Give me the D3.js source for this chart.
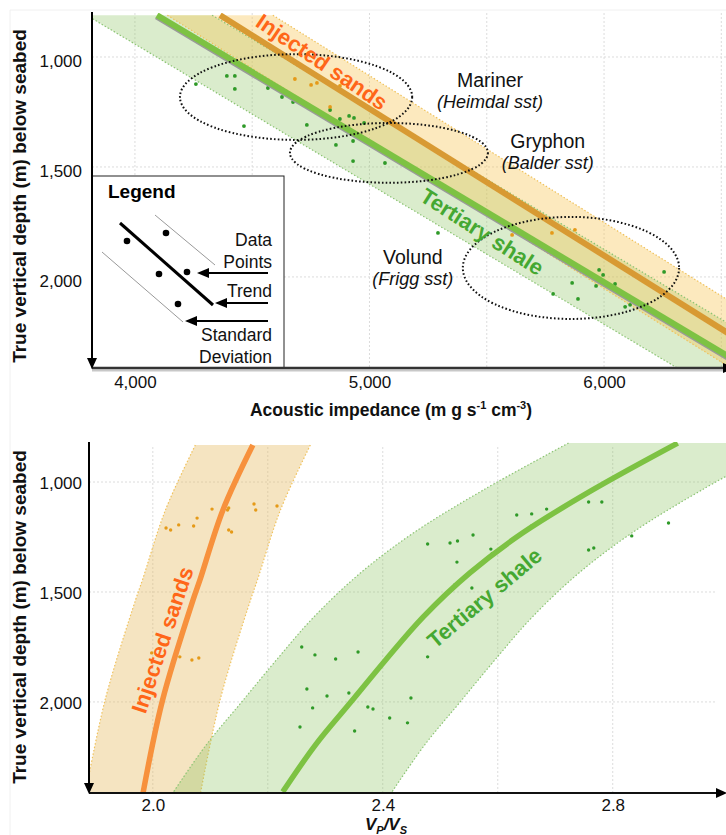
<!DOCTYPE html>
<html>
<head>
<meta charset="utf-8">
<script src="https://cdn.jsdelivr.net/npm/d3@7"></script>
<style>
  body { margin: 0; background: #fff; }
  svg { display: block; font-family: "Liberation Sans", Arial, sans-serif; }
</style>
</head>
<body>
<svg id="chart" width="726" height="835"></svg>
<script>
// ---------- Upper panel: acoustic impedance vs depth ----------
const aiTickValues = [4000, 5000, 6000];
const aiGridValues = [4000, 4500, 5000, 5500, 6000, 6500];
const depthTickValues = [1000, 1500, 2000];

// straight trend lines (end points: impedance, depth)
const shaleTrendAI = [4094, 6669];
const shaleTrendDepth = [810, 2450];
const shaleSdBelow = 300;   // band half-width on the low-impedance side
const shaleSdAbove = 235;   // band half-width on the high-impedance side
const sandTrendAI = [4363, 6820];
const sandTrendDepth = [810, 2450];
const sandSd = 225;

// measured samples
const shaleAI = [4260, 4392, 4426, 4426, 4567, 4627, 4674, 4465, 4733, 4832, 4874, 4913, 4934, 4977,
                 4857, 4930, 4930, 5066, 5190, 5292, 5825, 5979, 5996, 6047, 5864, 5966, 5889, 5783,
                 6090, 6111, 6256];
const shaleDepth = [1123, 1086, 1086, 1145, 1141, 1182, 1205, 1314, 1309, 1241, 1282, 1268, 1277, 1300,
                    1400, 1382, 1473, 1482, 1364, 1800, 1782, 1968, 1991, 2032, 2027, 2041, 2100, 2077,
                    2136, 2127, 1977];
const sandAI = [4682, 4751, 4776, 4874, 4832, 5608, 5778, 5842, 5876];
const sandDepth = [1100, 1127, 1118, 1132, 1227, 1809, 1800, 1800, 1786];

// field outlines (centre impedance, centre depth, half-width, half-height)
const fieldNames = ["Mariner", "Gryphon", "Volund"];
const fieldReservoirs = ["(Heimdal sst)", "(Balder sst)", "(Frigg sst)"];
const fieldCx = [4687, 5083, 5859];
const fieldCy = [1182, 1436, 1959];
const fieldRx = [495, 422, 461];
const fieldRy = [195, 136, 232];
const fieldLabelAI = [5514, 5760, 5185];
const fieldLabelDepth = [1136, 1414, 1941];

// ---------- Lower panel: Vp/Vs vs depth ----------
const vpvsTickValues = [2.0, 2.4, 2.8];
const vpvsGridValues = [2.0, 2.2, 2.4, 2.6, 2.8];

const sandTrendVpVs = [2.174, 2.122, 2.082, 2.070, 2.017, 1.983];
const sandTrendVpVsDepth = [832, 1127, 1445, 1536, 1991, 2414];
const sandVpVsSd = 0.1;
const shaleTrendVpVs = [2.913, 2.765, 2.643, 2.551, 2.470, 2.405, 2.343, 2.283, 2.226];
const shaleTrendVpVsDepth = [823, 1036, 1232, 1414, 1614, 1809, 2005, 2195, 2409];
const shaleVpVsSd = 0.19;

const sandVpVs = [2.023, 2.031, 2.045, 2.071, 2.077, 2.103, 2.130, 2.132, 2.132, 2.137, 2.176, 2.179, 2.216,
                  1.998, 2.047, 2.068, 2.080];
const sandVpVsDepth = [1209, 1218, 1195, 1200, 1164, 1123, 1127, 1118, 1218, 1227, 1100, 1127, 1109,
                       1777, 1795, 1809, 1800];
const shaleVpVs = [2.478, 2.517, 2.530, 2.557, 2.529, 2.588, 2.590, 2.633, 2.659, 2.659, 2.685, 2.758, 2.781,
                   2.758, 2.767, 2.833, 2.897, 2.525, 2.555, 2.259, 2.282, 2.318, 2.357, 2.268, 2.303, 2.341,
                   2.278, 2.374, 2.383, 2.256, 2.304, 2.351, 2.478, 2.449, 2.412, 2.443];
const shaleVpVsDepth = [1282, 1277, 1268, 1241, 1364, 1305, 1327, 1150, 1145, 1200, 1123, 1091, 1091,
                        1309, 1300, 1245, 1186, 1468, 1482, 1750, 1786, 1805, 1773, 1941, 1973, 1959,
                        2027, 2023, 2032, 2114, 2127, 2132, 1795, 1982, 2073, 2095];

// ---------- styling ----------
const C = {
  shaleFill: "rgba(140,195,95,0.32)",
  sandFill: "rgba(246,196,84,0.38)",
  sandFillLow: "rgba(230,188,100,0.40)",
  shaleEdge: "#8cc474",
  sandEdge: "#f0c25c",
  shaleLine: "#7dc243",
  sandLineTop: "#d89a33",
  sandLineLow: "#f7913d",
  shaleDot: "#2f9a28",
  sandDot: "#e59a18",
  shaleText: "#45a832",
  sandText: "#ff6618",
  grid: "#dcdcdc"
};

const svg = d3.select("#chart");
const defs = svg.append("defs");

// faint panel frame
svg.append("path").attr("d", "M10,835 V10 H726").attr("fill", "none").attr("stroke", "#f0f0f0");

function arrowDown(g, x, y) {
  g.append("path").attr("d", `M${x - 5},${y - 11} L${x + 5},${y - 11} L${x},${y} Z`).attr("fill", "#000");
}
function arrowRight(g, x, y) {
  g.append("path").attr("d", `M${x - 11},${y - 5} L${x - 11},${y + 5} L${x},${y} Z`).attr("fill", "#000");
}

// =================== upper panel ===================
const xTop = d3.scaleLinear().domain([3817, 6520]).range([92, 726]);
const yTop = d3.scaleLinear().domain([800, 2414]).range([13, 368]);

defs.append("clipPath").attr("id", "clipTop")
  .append("rect").attr("x", 92).attr("y", 13).attr("width", 640).attr("height", 355);

const upper = svg.append("g");

// grid
upper.append("g").selectAll("line").data(aiGridValues).join("line")
  .attr("x1", d => xTop(d)).attr("x2", d => xTop(d))
  .attr("y1", 13).attr("y2", 368)
  .attr("stroke", C.grid).attr("stroke-dasharray", "2,2");
upper.append("g").selectAll("line").data(depthTickValues).join("line")
  .attr("x1", 92).attr("x2", 726)
  .attr("y1", d => yTop(d)).attr("y2", d => yTop(d))
  .attr("stroke", C.grid).attr("stroke-dasharray", "2,2");

const plotTop = upper.append("g").attr("clip-path", "url(#clipTop)");
const lineTop = d3.line().x(d => xTop(d[0])).y(d => yTop(d[1]));

const shaleBandTop = [
  [shaleTrendAI[0] - shaleSdBelow, shaleTrendDepth[0]],
  [shaleTrendAI[1] - shaleSdBelow, shaleTrendDepth[1]],
  [shaleTrendAI[1] + shaleSdAbove, shaleTrendDepth[1]],
  [shaleTrendAI[0] + shaleSdAbove, shaleTrendDepth[0]]
];
const sandBandTop = [
  [sandTrendAI[0] - sandSd, sandTrendDepth[0]],
  [sandTrendAI[1] - sandSd, sandTrendDepth[1]],
  [sandTrendAI[1] + sandSd, sandTrendDepth[1]],
  [sandTrendAI[0] + sandSd, sandTrendDepth[0]]
];

plotTop.append("path").attr("d", lineTop(shaleBandTop) + "Z").attr("fill", C.shaleFill);
plotTop.append("path").attr("d", lineTop(sandBandTop) + "Z").attr("fill", C.sandFill);

// dotted band edges
[[shaleBandTop[0], shaleBandTop[1], C.shaleEdge], [shaleBandTop[3], shaleBandTop[2], C.shaleEdge],
 [sandBandTop[0], sandBandTop[1], C.sandEdge], [sandBandTop[3], sandBandTop[2], C.sandEdge]]
  .forEach(([a, b, col]) => {
    plotTop.append("path").attr("d", lineTop([a, b])).attr("fill", "none")
      .attr("stroke", col).attr("stroke-width", 1.2).attr("stroke-dasharray", "1.5,2");
  });

// samples
plotTop.append("g").selectAll("circle").data(d3.range(shaleAI.length)).join("circle")
  .attr("cx", i => xTop(shaleAI[i])).attr("cy", i => yTop(shaleDepth[i]))
  .attr("r", 1.9).attr("fill", C.shaleDot);
plotTop.append("g").selectAll("circle").data(d3.range(sandAI.length)).join("circle")
  .attr("cx", i => xTop(sandAI[i])).attr("cy", i => yTop(sandDepth[i]))
  .attr("r", 1.9).attr("fill", C.sandDot);

// trend lines
const shaleTrendPts = shaleTrendAI.map((v, i) => [v, shaleTrendDepth[i]]);
const sandTrendPts = sandTrendAI.map((v, i) => [v, sandTrendDepth[i]]);
plotTop.append("path").attr("d", lineTop(shaleTrendPts)).attr("transform", "translate(-1.5,3)")
  .attr("fill", "none").attr("stroke", "#9a9a9a").attr("stroke-width", 2);
plotTop.append("path").attr("d", lineTop(shaleTrendPts))
  .attr("fill", "none").attr("stroke", C.shaleLine).attr("stroke-width", 6);
plotTop.append("path").attr("d", lineTop(sandTrendPts))
  .attr("fill", "none").attr("stroke", C.sandLineTop).attr("stroke-width", 6);

// field outlines
plotTop.append("g").selectAll("ellipse").data(fieldNames).join("ellipse")
  .attr("cx", (d, i) => xTop(fieldCx[i])).attr("cy", (d, i) => yTop(fieldCy[i]))
  .attr("rx", (d, i) => xTop(fieldCx[i] + fieldRx[i]) - xTop(fieldCx[i]))
  .attr("ry", (d, i) => yTop(fieldCy[i] + fieldRy[i]) - yTop(fieldCy[i]))
  .attr("fill", "none").attr("stroke", "#111").attr("stroke-width", 2)
  .attr("stroke-dasharray", "1.6,2.2");

// field labels
fieldNames.forEach((name, i) => {
  const lx = xTop(fieldLabelAI[i]), ly = yTop(fieldLabelDepth[i]);
  upper.append("text").attr("x", lx).attr("y", ly).attr("text-anchor", "middle")
    .attr("font-size", 19.5).attr("fill", "#111").text(name);
  upper.append("text").attr("x", lx).attr("y", ly + 21).attr("text-anchor", "middle")
    .attr("font-size", 18).attr("font-style", "italic").attr("fill", "#111").text(fieldReservoirs[i]);
});

// series names along the trends
upper.append("text")
  .attr("transform", `translate(${xTop(4797)},${yTop(1023)}) rotate(34)`)
  .attr("text-anchor", "middle").attr("dominant-baseline", "central")
  .attr("font-size", 22).attr("font-weight", "bold").attr("fill", C.sandText).text("Injected sands");
upper.append("text")
  .attr("transform", `translate(${xTop(5480)},${yTop(1795)}) rotate(32.7)`)
  .attr("text-anchor", "middle").attr("dominant-baseline", "central")
  .attr("font-size", 22).attr("font-weight", "bold").attr("fill", C.shaleText).text("Tertiary shale");

// legend
const lg = upper.append("g");
lg.append("rect").attr("x", 92).attr("y", 176).attr("width", 192).attr("height", 192)
  .attr("fill", "#fff").attr("stroke", "#222").attr("stroke-width", 1);
lg.append("text").attr("x", 108).attr("y", 198).attr("font-size", 19).attr("font-weight", "bold").text("Legend");
lg.append("line").attr("x1", 155).attr("y1", 215).attr("x2", 215).attr("y2", 265).attr("stroke", "#999").attr("stroke-width", 1);
lg.append("line").attr("x1", 102).attr("y1", 252).attr("x2", 183).attr("y2", 322).attr("stroke", "#999").attr("stroke-width", 1);
lg.append("line").attr("x1", 120).attr("y1", 223).attr("x2", 213).attr("y2", 305).attr("stroke", "#000").attr("stroke-width", 3);
[[127, 241], [166, 233], [159, 274], [187, 272], [178, 304]].forEach(([cx, cy]) =>
  lg.append("circle").attr("cx", cx).attr("cy", cy).attr("r", 3.3).attr("fill", "#000"));
[[273, 197], [303, 215], [321, 185]].forEach(([ay, tip]) => {
  lg.append("line").attr("x1", 268).attr("y1", ay).attr("x2", tip + 8).attr("y2", ay).attr("stroke", "#000").attr("stroke-width", 2);
  lg.append("path").attr("d", `M${tip},${ay} L${tip + 12},${ay - 5} L${tip + 12},${ay + 5} Z`).attr("fill", "#000");
});
[["Data", 246], ["Points", 268], ["Trend", 297], ["Standard", 341], ["Deviation", 363]].forEach(([t, by]) =>
  lg.append("text").attr("x", 272).attr("y", by).attr("text-anchor", "end").attr("font-size", 17.5).attr("fill", "#111").text(t));

// axes
const yAxisTop = upper.append("g").attr("transform", "translate(92,0)")
  .call(d3.axisLeft(yTop).tickValues(depthTickValues).tickSize(0).tickPadding(10).tickFormat(d3.format(",")));
yAxisTop.select(".domain").remove();
yAxisTop.selectAll("text").attr("font-size", 17).attr("font-family", null).attr("dy", "0.55em").attr("fill", "#111");

const xAxisTop = upper.append("g").attr("transform", "translate(0,368)")
  .call(d3.axisBottom(xTop).tickValues(aiTickValues).tickSize(0).tickPadding(8).tickFormat(d3.format(",")));
xAxisTop.select(".domain").remove();
xAxisTop.selectAll("text").attr("font-size", 17).attr("font-family", null).attr("fill", "#111");

upper.append("line").attr("x1", 92).attr("x2", 726).attr("y1", 370.5).attr("y2", 370.5).attr("stroke", "#c8c8c8").attr("stroke-width", 2);
upper.append("line").attr("x1", 92).attr("x2", 726).attr("y1", 368).attr("y2", 368).attr("stroke", "#333").attr("stroke-width", 2.5);
upper.append("line").attr("x1", 92).attr("x2", 92).attr("y1", 12).attr("y2", 360).attr("stroke", "#000").attr("stroke-width", 2);
arrowDown(upper, 92, 369);
arrowRight(upper, 734, 368);

upper.append("text").attr("x", 391).attr("y", 416).attr("text-anchor", "middle")
  .attr("font-size", 17.5).attr("font-weight", "bold").attr("fill", "#111")
  .call(t => {
    t.append("tspan").text("Acoustic impedance (m g s");
    t.append("tspan").attr("font-size", 11).attr("dy", -7).text("-1");
    t.append("tspan").attr("dy", 7).text(" cm");
    t.append("tspan").attr("font-size", 11).attr("dy", -7).text("-3");
    t.append("tspan").attr("dy", 7).text(")");
  });
upper.append("text").attr("transform", "translate(26,196) rotate(-90)").attr("text-anchor", "middle")
  .attr("font-size", 19).attr("font-weight", "bold").attr("fill", "#111")
  .text("True vertical depth (m) below seabed");

// =================== lower panel ===================
const xBot = d3.scaleLinear().domain([1.889, 2.997]).range([89, 726]);
const yBot = d3.scaleLinear().domain([818, 2414]).range([442, 793]);

defs.append("clipPath").attr("id", "clipBot")
  .append("rect").attr("x", 89).attr("y", 442).attr("width", 640).attr("height", 351);

const lower = svg.append("g");

lower.append("g").selectAll("line").data(vpvsGridValues).join("line")
  .attr("x1", d => xBot(d)).attr("x2", d => xBot(d))
  .attr("y1", 447).attr("y2", 793)
  .attr("stroke", C.grid).attr("stroke-dasharray", "2,2");
lower.append("g").selectAll("line").data(depthTickValues).join("line")
  .attr("x1", 89).attr("x2", 717)
  .attr("y1", d => yBot(d)).attr("y2", d => yBot(d))
  .attr("stroke", C.grid).attr("stroke-dasharray", "2,2");

const plotBot = lower.append("g").attr("clip-path", "url(#clipBot)");
const curve = d3.curveCatmullRom.alpha(0.5);

function drawBand(vals, depths, sd, fill, edge) {
  const pts = vals.map((v, i) => ({ v, d: depths[i] }));
  plotBot.append("path")
    .attr("d", d3.area().curve(curve).y(p => yBot(p.d)).x0(p => xBot(p.v - sd)).x1(p => xBot(p.v + sd))(pts))
    .attr("fill", fill);
  [-sd, sd].forEach(off => {
    plotBot.append("path")
      .attr("d", d3.line().curve(curve).x(p => xBot(p.v + off)).y(p => yBot(p.d))(pts))
      .attr("fill", "none").attr("stroke", edge).attr("stroke-width", 1.2).attr("stroke-dasharray", "1.5,2");
  });
  return pts;
}
const sandPts = drawBand(sandTrendVpVs, sandTrendVpVsDepth, sandVpVsSd, C.sandFillLow, C.sandEdge);
const shalePts = drawBand(shaleTrendVpVs, shaleTrendVpVsDepth, shaleVpVsSd, C.shaleFill, C.shaleEdge);

plotBot.append("g").selectAll("circle").data(d3.range(shaleVpVs.length)).join("circle")
  .attr("cx", i => xBot(shaleVpVs[i])).attr("cy", i => yBot(shaleVpVsDepth[i]))
  .attr("r", 1.7).attr("fill", C.shaleDot);
plotBot.append("g").selectAll("circle").data(d3.range(sandVpVs.length)).join("circle")
  .attr("cx", i => xBot(sandVpVs[i])).attr("cy", i => yBot(sandVpVsDepth[i]))
  .attr("r", 1.7).attr("fill", C.sandDot);

const trendLine = d3.line().curve(curve).x(p => xBot(p.v)).y(p => yBot(p.d));
plotBot.append("path").attr("d", trendLine(sandPts)).attr("fill", "none")
  .attr("stroke", C.sandLineLow).attr("stroke-width", 5.5);
plotBot.append("path").attr("d", trendLine(shalePts)).attr("fill", "none")
  .attr("stroke", C.shaleLine).attr("stroke-width", 5.5);

lower.append("text")
  .attr("transform", `translate(${xBot(2.017)},${yBot(1718)}) rotate(-71.6)`)
  .attr("text-anchor", "middle").attr("dominant-baseline", "central")
  .attr("font-size", 22).attr("font-weight", "bold").attr("fill", C.sandText).text("Injected sands");
lower.append("text")
  .attr("transform", `translate(${xBot(2.577)},${yBot(1527)}) rotate(-40)`)
  .attr("text-anchor", "middle").attr("dominant-baseline", "central")
  .attr("font-size", 22).attr("font-weight", "bold").attr("fill", C.shaleText).text("Tertiary shale");

const yAxisBot = lower.append("g").attr("transform", "translate(89,0)")
  .call(d3.axisLeft(yBot).tickValues(depthTickValues).tickSize(0).tickPadding(7).tickFormat(d3.format(",")));
yAxisBot.select(".domain").remove();
yAxisBot.selectAll("text").attr("font-size", 17).attr("font-family", null).attr("dy", "0.36em").attr("fill", "#111");

const xAxisBot = lower.append("g").attr("transform", "translate(0,793)")
  .call(d3.axisBottom(xBot).tickValues(vpvsTickValues).tickSize(0).tickPadding(6).tickFormat(d3.format(".1f")));
xAxisBot.select(".domain").remove();
xAxisBot.selectAll("text").attr("font-size", 17).attr("font-family", null).attr("fill", "#111");

lower.append("line").attr("x1", 89).attr("x2", 716).attr("y1", 793).attr("y2", 793).attr("stroke", "#111").attr("stroke-width", 2);
lower.append("line").attr("x1", 89).attr("x2", 89).attr("y1", 442).attr("y2", 784).attr("stroke", "#000").attr("stroke-width", 2);
arrowDown(lower, 89, 794);
arrowRight(lower, 727, 793);

lower.append("text").attr("x", 386).attr("y", 830).attr("text-anchor", "middle")
  .attr("font-size", 17).attr("font-weight", "bold").attr("font-style", "italic").attr("fill", "#111")
  .call(t => {
    t.append("tspan").text("V");
    t.append("tspan").attr("font-size", 11).attr("dy", 4).text("P");
    t.append("tspan").attr("dy", -4).text("/V");
    t.append("tspan").attr("font-size", 11).attr("dy", 4).text("S");
  });
lower.append("text").attr("transform", "translate(26,617) rotate(-90)").attr("text-anchor", "middle")
  .attr("font-size", 19).attr("font-weight", "bold").attr("fill", "#111")
  .text("True vertical depth (m) below seabed");
</script>
</body>
</html>
